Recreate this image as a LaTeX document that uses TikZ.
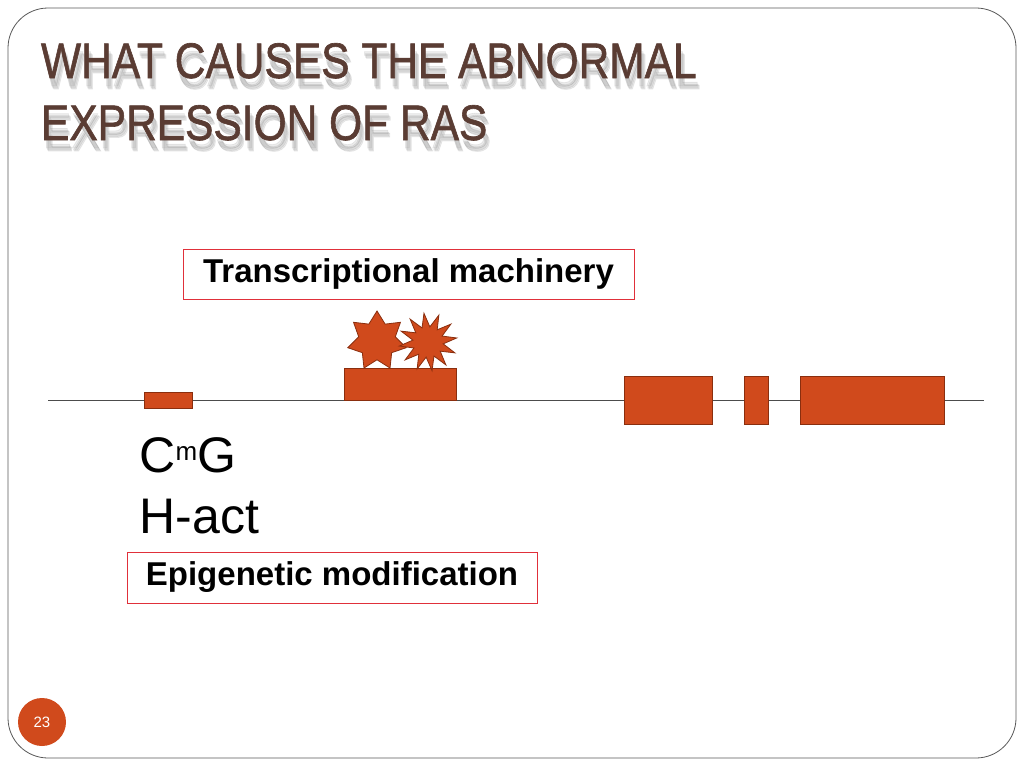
\documentclass[tikz,border=0pt]{standalone}
\usepackage{fontspec}
\setmainfont{Liberation Sans}
\newfontfamily\ttlfont{Liberation Sans}[FakeBold=1.3]
\usetikzlibrary{shapes.geometric}
\definecolor{rasorange}{HTML}{D04A1C}
\definecolor{rasedge}{HTML}{8A2E0E}
\definecolor{titlebrown}{HTML}{5A3C33}
\definecolor{boxred}{HTML}{E0303A}
\tikzset{
  exon/.style={draw=rasedge, fill=rasorange, line width=0.8pt},
  labelbox/.style={draw=boxred, line width=0.6pt, inner xsep=10pt, inner ysep=0pt, font=\bfseries\fontsize{33}{38}\selectfont},
  titletext/.style={anchor=base west, font=\ttlfont\fontsize{50}{56}\selectfont, xscale=0.85, text=titlebrown},
  titleshadow/.style={anchor=base west, font=\ttlfont\fontsize{50}{56}\selectfont, xscale=0.85, text=black!50, opacity=0.15},
  bigtext/.style={anchor=base west, font=\fontsize{50}{56}\selectfont}
}
\begin{document}
\begin{tikzpicture}[x=1pt,y=-1pt]
\useasboundingbox (0,0) rectangle (1024,768);
\fill[white] (0,0) rectangle (1024,768);
% frame
\draw[gray!70!black, line width=0.8pt, rounded corners=40pt] (8,8) rectangle (1016,758);
% title shadow (soft)
\foreach \dx/\dy in {2/8,4/11,3/10} {
  \node[titleshadow] at (38+\dx,78+\dy) {WHAT CAUSES THE ABNORMAL};
  \node[titleshadow] at (38+\dx,140+\dy) {EXPRESSION OF RAS};
}
\node[titletext] (t1) at (38,78) {WHAT CAUSES THE ABNORMAL};
\node[titletext] (t2) at (38,140) {EXPRESSION OF RAS};
% DNA line
\coordinate (l0) at (48,400);
\coordinate (l1) at (984,400);
\draw[gray!60!black, line width=1pt] (l0) -- (l1);
% boxes
\draw[exon] (144,392) rectangle (192,408);
\draw[exon] (344,368) rectangle (456,400);
\draw[exon] (624,376) rectangle (712,424);
\draw[exon] (744,376) rectangle (768,424);
\draw[exon] (800,376) rectangle (944,424);
% stars
\node[star, star points=7, star point ratio=1.6, exon, minimum size=60pt, inner sep=0pt] (s1) at (377,341) {};
\node[star, star points=12, star point ratio=1.9, exon, minimum size=58pt, inner sep=0pt, rotate=8] (s2) at (428,342) {};
% labels
\node[labelbox, minimum width=451pt, minimum height=50pt] (tm) at (408.5,274) {Transcriptional machinery};
\node[labelbox, minimum width=410pt, minimum height=51pt] (em) at (332,577.5) {Epigenetic modification};
\node[bigtext] (cmg) at (136,472) {C\raisebox{12pt}{\fontsize{26}{28}\selectfont m}G};
\node[bigtext] (hact) at (136,533) {H-act};
% page number
\node[circle, fill=rasorange, minimum size=48pt, inner sep=0pt, text=white, font=\fontsize{15}{18}\selectfont] (pg) at (42,722) {23};
\end{tikzpicture}
\end{document}
